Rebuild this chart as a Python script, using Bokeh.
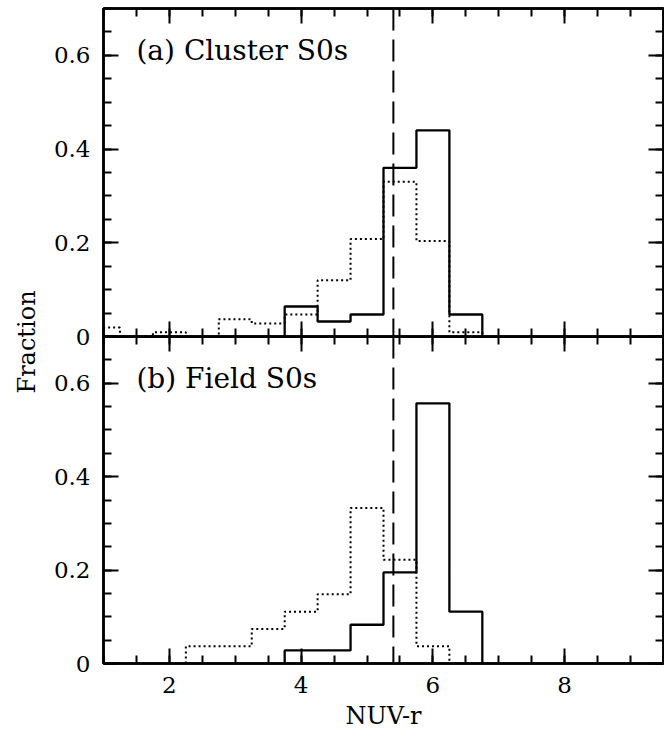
import numpy as np
from bokeh.plotting import figure
from bokeh.models import Range1d, LinearAxis, FixedTicker, Span, Label, Title
from bokeh.layouts import column
from bokeh.embed import file_html
from bokeh.resources import INLINE

# ---------------- data ----------------
BIN_WIDTH = 0.5
CUT = 5.4  # NUV-r colour cut (dashed line)

# (a) Cluster S0s
a_solid_left = [3.75, 4.25, 4.75, 5.25, 5.75, 6.25]
a_solid_frac = [0.064, 0.032, 0.047, 0.360, 0.440, 0.047]
a_dot_left = [0.75, 1.25, 1.75, 2.25, 2.75, 3.25, 3.75, 4.25, 4.75, 5.25, 5.75, 6.25]
a_dot_frac = [0.019, 0.0, 0.009, 0.0, 0.037, 0.028, 0.047, 0.120, 0.208, 0.330, 0.204, 0.009]

# (b) Field S0s
b_solid_left = [3.75, 4.25, 4.75, 5.25, 5.75, 6.25]
b_solid_frac = [0.028, 0.028, 0.083, 0.195, 0.557, 0.111]
b_dot_left = [2.25, 2.75, 3.25, 3.75, 4.25, 4.75, 5.25, 5.75]
b_dot_frac = [0.037, 0.037, 0.074, 0.111, 0.148, 0.333, 0.222, 0.037]

x_major = [2, 4, 6, 8]
y_major = [0, 0.2, 0.4, 0.6]
panel_titles = ["(a) Cluster S0s", "(b) Field S0s"]

FONT = "DejaVu Serif"
X_RANGE = (1.0, 9.5)
Y_RANGE = (0.0, 0.7)


def step_path(lefts, vals):
    lefts = np.asarray(lefts, dtype=float)
    edges = np.append(lefts, lefts[-1] + BIN_WIDTH)
    xs = np.concatenate([[edges[0]], edges])
    ys = np.concatenate([[0.0], np.asarray(vals, dtype=float), [0.0]])
    return xs, ys


def style_axis(ax, labels):
    ax.axis_line_color = "black"
    ax.axis_line_width = 2.5
    ax.major_tick_in = 15
    ax.major_tick_out = 0
    ax.minor_tick_in = 8
    ax.minor_tick_out = 0
    ax.major_tick_line_width = 2
    ax.minor_tick_line_width = 2
    ax.major_tick_line_color = "black"
    ax.minor_tick_line_color = "black"
    if labels:
        ax.major_label_text_font = FONT
        ax.major_label_text_font_size = "23px"
        ax.major_label_text_color = "black"
        ax.major_label_standoff = 13
    else:
        ax.major_label_text_color = None
        ax.major_label_standoff = 0


def x_ticker():
    return FixedTicker(ticks=x_major, minor_ticks=list(np.arange(1.0, 9.51, 0.5)))


def y_ticker():
    return FixedTicker(ticks=y_major, minor_ticks=[round(0.05 * i, 2) for i in range(15)])


def make_panel(solid_left, solid_frac, dot_left, dot_frac, title,
               bottom_labels, min_top, min_bottom, frame_h):
    p = figure(frame_width=560, frame_height=frame_h,
               x_range=Range1d(*X_RANGE), y_range=Range1d(*Y_RANGE),
               output_backend="svg", toolbar_location=None,
               x_axis_location=None, y_axis_location=None,
               min_border_left=103, min_border_right=1,
               min_border_top=min_top, min_border_bottom=min_bottom)
    p.xgrid.visible = False
    p.ygrid.visible = False
    p.outline_line_color = "black"
    p.outline_line_width = 2.5

    left = LinearAxis(ticker=y_ticker())
    style_axis(left, True)
    left.major_label_overrides = {0: "0"}
    p.add_layout(left, "left")

    right = LinearAxis(ticker=y_ticker())
    style_axis(right, False)
    p.add_layout(right, "right")

    above = LinearAxis(ticker=x_ticker())
    style_axis(above, False)
    p.add_layout(above, "above")

    below = LinearAxis(ticker=x_ticker())
    style_axis(below, bottom_labels)
    if bottom_labels:
        below.axis_label = "NUV-r"
        below.axis_label_text_font = FONT
        below.axis_label_text_font_style = "normal"
        below.axis_label_text_font_size = "24px"
        below.axis_label_text_color = "black"
        below.axis_label_standoff = 6
    p.add_layout(below, "below")

    xs, ys = step_path(dot_left, dot_frac)
    p.step(xs, ys, mode="after", line_color="black", line_width=2, line_dash="2 3")
    xs, ys = step_path(solid_left, solid_frac)
    p.step(xs, ys, mode="after", line_color="black", line_width=2.3)

    p.add_layout(Span(location=CUT, dimension="height", line_color="black",
                      line_width=2, line_dash="22 9"))

    p.add_layout(Label(x=1.5, y=0.61, text=title, text_font=FONT,
                       text_font_size="28px", text_baseline="middle",
                       text_align="left", text_color="black"))
    return p


p1 = make_panel(a_solid_left, a_solid_frac, a_dot_left, a_dot_frac, panel_titles[0],
                False, 8, 70, 328)
p2 = make_panel(b_solid_left, b_solid_frac, b_dot_left, b_dot_frac, panel_titles[1],
                True, 0, 68, 327)
p2.background_fill_color = None
p2.border_fill_color = None
p2.margin = (-70, 0, 0, 0)

# shared y-axis title, running across the boundary between the two panels
p1.add_layout(Title(text="Fraction", align="left", offset=-57, standoff=20,
                    text_font=FONT, text_font_size="24px",
                    text_font_style="normal", text_color="black"), "left")

layout = column(p1, p2)
open("out.html", "w").write(file_html(layout, INLINE))
